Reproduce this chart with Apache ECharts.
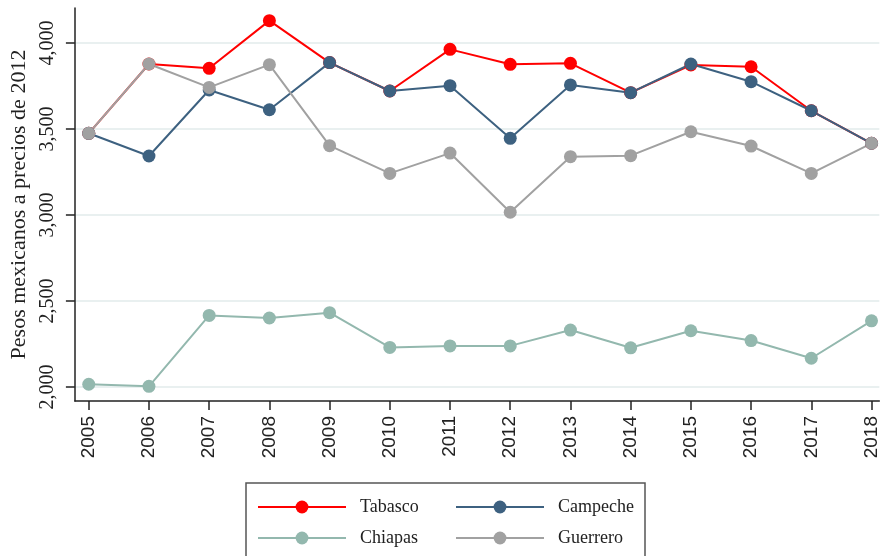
<!DOCTYPE html>
<html>
<head>
<meta charset="utf-8">
<script src="https://cdn.jsdelivr.net/npm/echarts@6/dist/echarts.min.js"></script>
<style>
html, body { margin: 0; padding: 0; background: #fff; }
#chart { width: 881px; height: 556px; }
</style>
</head>
<body>
<div id="chart"></div>
<script>
var years = [2005, 2006, 2007, 2008, 2009, 2010, 2011, 2012, 2013, 2014, 2015, 2016, 2017, 2018];
var yTicks = [2000, 2500, 3000, 3500, 4000];
var tabasco  = [3475, 3878, 3853, 4130, 3886, 3721, 3963, 3876, 3882, 3711, 3872, 3862, 3606, 3417];
var campeche = [3475, 3343, 3727, 3612, 3886, 3721, 3752, 3446, 3756, 3711, 3878, 3775, 3606, 3417];
var chiapas  = [2016, 2004, 2416, 2401, 2432, 2230, 2239, 2239, 2331, 2228, 2327, 2270, 2167, 2385];
var guerrero = [3475, 3878, 3742, 3874, 3403, 3242, 3360, 3016, 3339, 3345, 3484, 3401, 3242, 3417];

var colors = {
    'Tabasco': '#ff0000',
    'Campeche': '#3d6180',
    'Chiapas': '#93b8ae',
    'Guerrero': '#a1a1a1'
};
var serif = '"Liberation Serif", "DejaVu Serif", serif';
var sans = '"Liberation Sans", Arial, sans-serif';

function pairs(vals) {
    return vals.map(function (v, i) { return [years[i], v]; });
}

function makeSeries(name, vals) {
    return {
        name: name,
        type: 'line',
        data: pairs(vals),
        symbol: 'circle',
        symbolSize: 13,
        color: colors[name],
        lineStyle: { width: 2, color: colors[name] },
        itemStyle: { color: colors[name] },
        emphasis: { disabled: true },
        animation: false
    };
}

function oneLegend(name, left, top) {
    return {
        data: [name],
        left: left,
        top: top,
        itemWidth: 88,
        itemHeight: 16,
        padding: 0,
        selectedMode: false,
        textStyle: { fontFamily: serif, fontSize: 18, color: '#222', padding: [4, 0, 0, 9] }
    };
}

var chart = echarts.init(document.getElementById('chart'));
chart.setOption({
    animation: false,
    grid: { left: 74, right: 1, top: 8, bottom: 155 },
    xAxis: {
        type: 'value',
        min: 2004.77,
        max: 2018.13,
        axisLine: { show: true, lineStyle: { color: '#222', width: 1.5 } },
        axisTick: { show: true, length: 9, customValues: years, lineStyle: { color: '#222', width: 1.5 } },
        axisLabel: {
            customValues: years,
            rotate: 90,
            margin: 15,
            fontFamily: sans,
            fontSize: 19,
            color: '#222',
            formatter: function (v) { return String(v); }
        },
        splitLine: { show: false }
    },
    yAxis: {
        type: 'value',
        min: 1918.6,
        max: 4203.5,
        name: 'Pesos mexicanos a precios de 2012',
        nameLocation: 'middle',
        nameGap: 41,
        nameTextStyle: { fontFamily: serif, fontSize: 22, color: '#222' },
        axisLine: { show: true, lineStyle: { color: '#222', width: 1.5 } },
        axisTick: { show: true, length: 9, customValues: yTicks, lineStyle: { color: '#222', width: 1.5 } },
        axisLabel: {
            customValues: yTicks,
            rotate: 90,
            margin: 17,
            fontFamily: serif,
            fontSize: 20,
            color: '#222',
            formatter: function (v) { return v.toLocaleString('en-US'); }
        },
        splitLine: { show: true, lineStyle: { color: '#e9f0f0', width: 2 } }
    },
    legend: [
        oneLegend('Tabasco', 257, 498),
        oneLegend('Campeche', 455, 498),
        oneLegend('Chiapas', 257, 529),
        oneLegend('Guerrero', 455, 529)
    ],
    graphic: [{
        type: 'rect',
        shape: { x: 246, y: 483, width: 399, height: 90 },
        style: { fill: 'none', stroke: '#555', lineWidth: 1.5 },
        silent: true
    }],
    series: [
        makeSeries('Tabasco', tabasco),
        makeSeries('Campeche', campeche),
        makeSeries('Chiapas', chiapas),
        makeSeries('Guerrero', guerrero)
    ]
});
</script>
</body>
</html>
